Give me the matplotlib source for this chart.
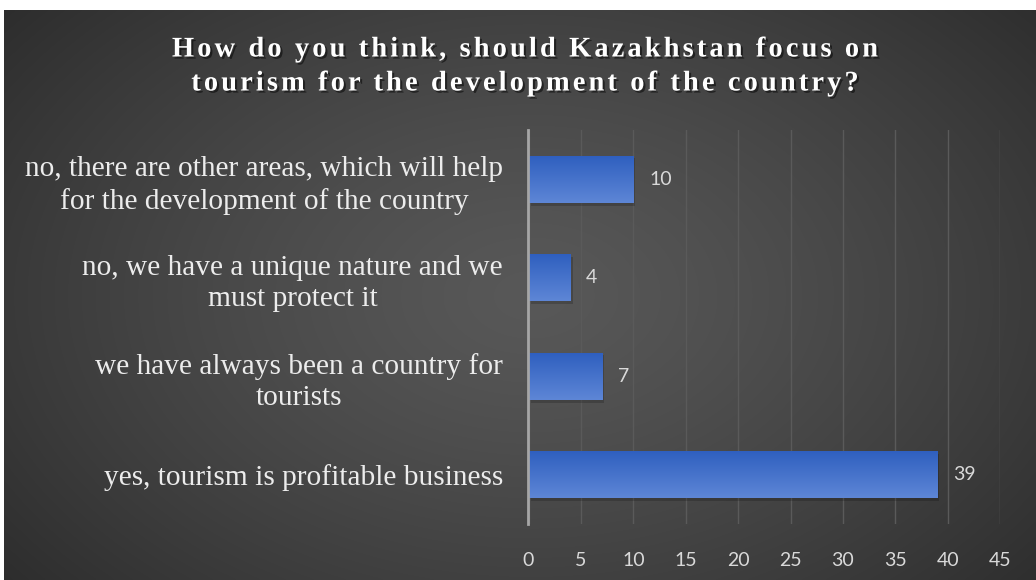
import numpy as np
import matplotlib
matplotlib.use("Agg")
import matplotlib.pyplot as plt
from matplotlib.font_manager import FontProperties
from matplotlib.textpath import text_to_path
import matplotlib.patheffects as pe

# ---- Data ----
categories = [
    "yes, tourism is profitable business",
    "we have always been a country for\ntourists",
    "no, we have a unique nature and we\nmust protect it",
    "no, there are other areas, which will help\nfor the development of the country",
]
counts = [39, 7, 4, 10]
xticks = [0, 5, 10, 15, 20, 25, 30, 35, 40, 45]
title_lines = [
    "How do you think, should Kazakhstan focus on",
    "tourism for the development of the country?",
]

W, H, DPI = 1036, 580, 100
fig = plt.figure(figsize=(W / DPI, H / DPI), dpi=DPI)
fig.patch.set_facecolor("white")

# ---- Background: dark panel with soft radial glow ----
bg = fig.add_axes([4 / W, 0, 1 - 4 / W, 1 - 10 / H])
yy, xx = np.mgrid[0:300, 0:520]
cx, cy = 265, 150
d = np.sqrt(((xx - cx) / 330.0) ** 2 + ((yy - cy) / 230.0) ** 2)
shade = np.clip(0.345 - 0.16 * d ** 1.3, 0.14, 0.36)
bg.imshow(np.dstack([shade] * 3), aspect="auto", extent=[0, 1, 0, 1], interpolation="bicubic")
bg.set_axis_off()

# ---- Main axes ----
ax = fig.add_axes([528 / W, (H - 524) / H, (1000 - 528) / W + 0.0001, 394 / H])
ax.set_facecolor("none")
ypos = np.arange(len(categories))
bars = ax.barh(ypos, counts, height=0.48, color="#3e6dcc", zorder=3,
               path_effects=[pe.SimplePatchShadow(offset=(1.5, -2), shadow_rgbFace="black", alpha=0.18),
                             pe.Normal()])

# vertical gradient on each bar
grad = np.linspace(0, 1, 64).reshape(-1, 1)
top = np.array([0x5e, 0x86, 0xd6]) / 255
bot = np.array([0x2e, 0x5f, 0xbf]) / 255
grad_rgb = top[None, None, :] * (1 - grad[..., None]) + bot[None, None, :] * grad[..., None]
for b in bars:
    x0, y0 = b.get_x(), b.get_y()
    im = ax.imshow(grad_rgb, extent=[x0, x0 + b.get_width(), y0 + b.get_height(), y0],
                   aspect="auto", zorder=4, interpolation="bilinear")
    im.set_clip_path(b)

for b, v in zip(bars, counts):
    ax.text(b.get_width() + 1.5, b.get_y() + b.get_height() / 2, str(v),
            va="center", ha="left", color="#d9d9d9", fontsize=14, family="Lato", zorder=5)

ax.set_xticks(xticks)
ax.set_xticklabels([str(t) for t in xticks], family="Lato", fontsize=14, color="#d9d9d9")
ax.set_yticks(ypos)
ax.set_yticklabels(categories, family="Liberation Serif", fontsize=21.2, color="#ececec",
                   linespacing=1.28, multialignment="center")
ax.tick_params(axis="both", length=0)
ax.tick_params(axis="x", pad=20)
ax.tick_params(axis="y", pad=18)
ax.grid(axis="x", color="#5a5a5a", linewidth=1.0, zorder=1)
ax.set_axisbelow(True)
for s in ["top", "right", "bottom"]:
    ax.spines[s].set_visible(False)
ax.spines["left"].set_color("#a6a6a6")
ax.spines["left"].set_linewidth(2)
ax.spines["left"].set_zorder(6)
ax.set_ylim(-0.5, 3.5)
ax.set_xlim(-0.05, 45)

# ---- Title with wide letter spacing ----
tfp = FontProperties(family="Liberation Serif", weight="bold", size=20.5)


def spaced_title(s, xc, yc, spacing):
    n = len(s)
    natural = text_to_path.get_text_width_height_descent(s, tfp, ismath=False)[0] * DPI / 72
    total = natural + (n - 1) * spacing
    x = xc - total / 2
    for i, ch in enumerate(s):
        pre = text_to_path.get_text_width_height_descent(s[:i], tfp, ismath=False)[0] * DPI / 72 if i else 0
        fig.text((x + pre + i * spacing) / W, 1 - yc / H, ch, fontproperties=tfp, color="white",
                 ha="left", va="center",
                 path_effects=[pe.withSimplePatchShadow(offset=(1.5, -1.5), shadow_rgbFace="black", alpha=0.5)])


spaced_title(title_lines[0], 525, 50, 3.1)
spaced_title(title_lines[1], 525, 84, 3.1)

fig.savefig("out.png", dpi=DPI, facecolor=fig.get_facecolor())
